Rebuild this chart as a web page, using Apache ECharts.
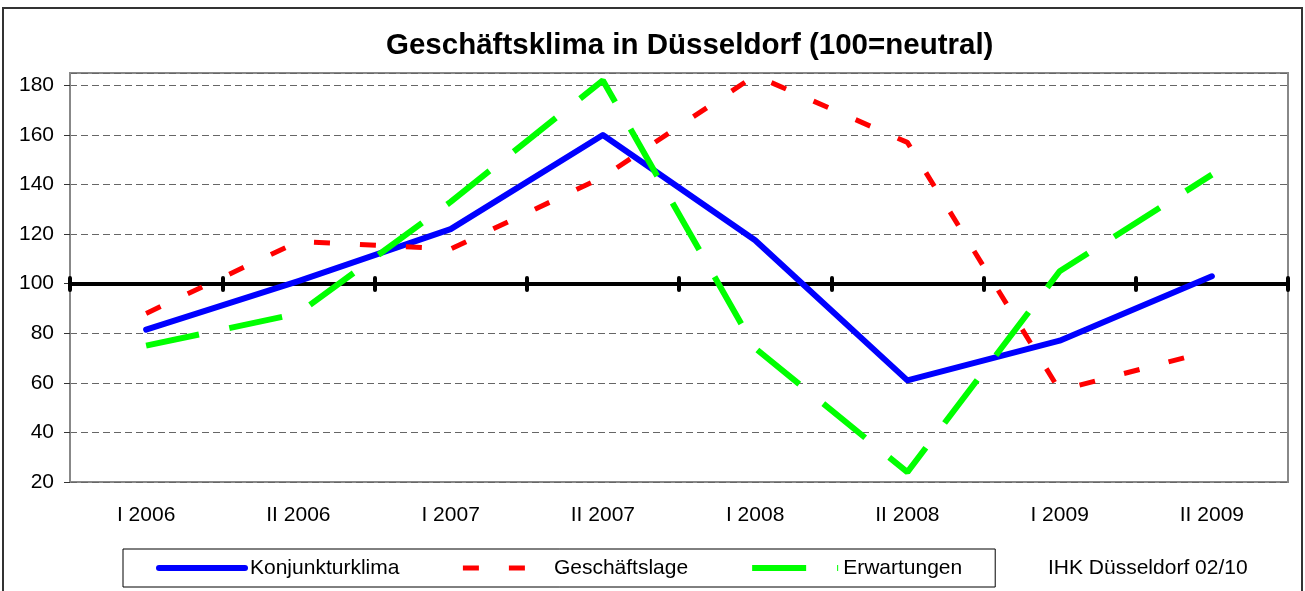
<!DOCTYPE html>
<html>
<head>
<meta charset="utf-8">
<title>Geschäftsklima in Düsseldorf</title>
<script src="https://cdn.jsdelivr.net/npm/echarts@6/dist/echarts.min.js"></script>
<style>
  html, body { margin: 0; padding: 0; background: #fff; }
  #chart { width: 1305px; height: 591px; }
</style>
</head>
<body>
<div id="chart"></div>
<script>
// Halbjahre
const categories = ["I 2006", "II 2006", "I 2007", "II 2007", "I 2008", "II 2008", "I 2009", "II 2009"];
// Indexwerte (100 = neutral)
const konjunkturklima = [81.5, 101, 122, 160, 117.5, 61, 77, 103];
const geschaeftslage = [88, 117, 114, 143, 184, 157, 57, 73];
const erwartungen = [75, 88, 133, 182, 74, 24, 105, 144];

const font = "Liberation Sans, Arial, sans-serif";

const myChart = echarts.init(document.getElementById("chart"));

// schwarze Linie bei 100 mit Strichen (Rubrikenachse kreuzt bei 100)
const crossAxis = (inside) => ({
  type: "category",
  data: categories,
  position: "bottom",
  offset: -198,
  boundaryGap: true,
  axisLabel: { show: false },
  axisLine: { show: !inside, lineStyle: { color: "#000", width: 4 } },
  axisTick: {
    show: true,
    inside: inside,
    length: 6,
    lineStyle: { color: "#000", width: 4, cap: "round" },
  },
  splitLine: { show: false },
});

const option = {
  backgroundColor: "#fff",
  animation: false,
  title: {
    text: "Geschäftsklima in Düsseldorf (100=neutral)",
    left: 386,
    top: 31,
    padding: 0,
    textStyle: {
      fontFamily: font,
      fontSize: 29.5,
      fontWeight: "bold",
      color: "#000",
    },
  },
  grid: {
    show: true,
    left: 70,
    right: 17,
    top: 73,
    bottom: 109,
    borderColor: "#888",
    borderWidth: 2,
    containLabel: false,
  },
  legend: {
    left: 123,
    top: 549,
    orient: "horizontal",
    itemWidth: 86,
    itemHeight: 14,
    itemGap: 61,
    padding: [8, 33, 8, 33],
    borderColor: "#000",
    borderWidth: 1,
    itemStyle: { opacity: 0 },
    lineStyle: { width: "inherit", type: "inherit" },
    textStyle: { fontFamily: font, fontSize: 21, color: "#000", lineHeight: 22 },
    data: ["Konjunkturklima", "Geschäftslage", "Erwartungen"],
  },
  graphic: [
    {
      type: "rect",
      silent: true,
      z: -1,
      shape: { x: 3, y: 8, width: 1299, height: 600 },
      style: { fill: "none", stroke: "#333", lineWidth: 2 },
    },
    {
      type: "text",
      left: 1048,
      top: 558,
      style: {
        text: "IHK Düsseldorf 02/10",
        font: "21px " + font,
        fill: "#000",
      },
    },
  ],
  xAxis: [
    {
      type: "category",
      data: categories,
      boundaryGap: true,
      axisLine: { show: false },
      axisTick: { show: false },
      axisLabel: {
        color: "#000",
        fontFamily: font,
        fontSize: 21,
        margin: 23,
      },
      splitLine: { show: false },
    },
    crossAxis(false),
    crossAxis(true),
  ],
  yAxis: {
    type: "value",
    min: 20,
    max: 185,
    interval: 20,
    axisLine: { show: true, lineStyle: { color: "#888", width: 2 } },
    axisTick: { show: true, length: 6, lineStyle: { color: "#333", width: 1 } },
    axisLabel: {
      color: "#000",
      fontFamily: font,
      fontSize: 21,
      margin: 16,
      showMaxLabel: false,
    },
    splitLine: {
      show: true,
      lineStyle: { color: "#666", width: 1, type: [7, 4] },
    },
  },
  series: [
    {
      name: "Konjunkturklima",
      type: "line",
      data: konjunkturklima,
      showSymbol: false,
      symbol: "none",
      color: "#0000ff",
      lineStyle: { color: "#0000ff", width: 6, cap: "round", join: "round" },
      z: 3,
    },
    {
      name: "Geschäftslage",
      type: "line",
      data: geschaeftslage,
      showSymbol: false,
      symbol: "none",
      color: "#ff0000",
      lineStyle: { color: "#ff0000", width: 5, type: [16, 30], cap: "butt" },
      z: 4,
    },
    {
      name: "Erwartungen",
      type: "line",
      data: erwartungen,
      showSymbol: false,
      symbol: "none",
      color: "#00ff00",
      lineStyle: { color: "#00ff00", width: 6, type: [54, 31], cap: "butt" },
      z: 5,
    },
  ],
};

myChart.setOption(option);
window.addEventListener("resize", () => {
  myChart.resize();
});
</script>
</body>
</html>
